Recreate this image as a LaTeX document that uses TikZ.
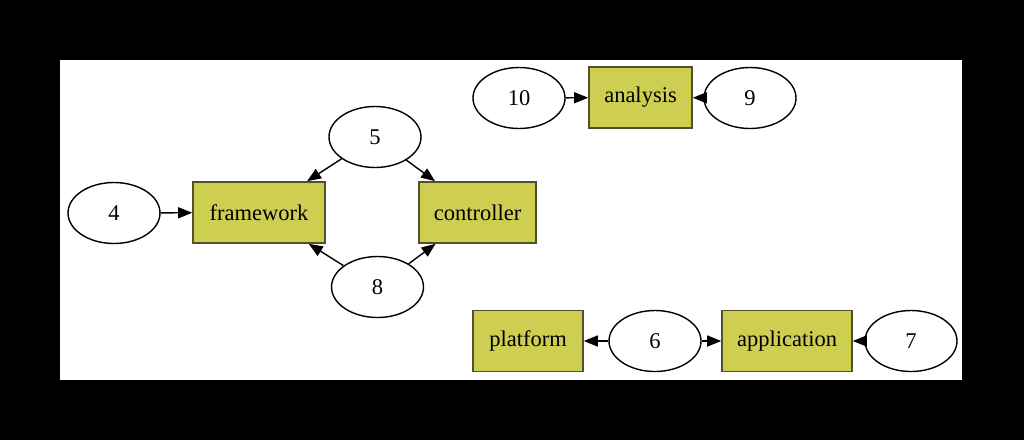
\documentclass[tikz,border=0pt]{standalone}
\usepackage{fontspec}
\setmainfont{Liberation Serif}
\usetikzlibrary{shapes.geometric,arrows.meta}
\definecolor{boxfill}{RGB}{206,206,82}
\definecolor{boxline}{RGB}{80,80,45}
\tikzset{
  ell/.style={draw=black, fill=white, ellipse, line width=1.4pt, minimum width=92pt, minimum height=61pt, inner sep=0pt, font=\fontsize{22.5}{26}\selectfont},
  bx/.style={draw=boxline, fill=boxfill, rectangle, line width=1.6pt, minimum height=61pt, inner sep=0pt, font=\fontsize{22.5}{26}\selectfont},
  edge/.style={draw=black, line width=1.4pt, -{Triangle[length=14pt,width=11pt]}}
}
\begin{document}
\begin{tikzpicture}[x=1pt,y=-1pt]
\fill[black] (0,0) rectangle (1024,440);
\useasboundingbox (0,0) rectangle (1024,440);
\fill[white] (60,60) rectangle (962,380);
% nodes
\node[ell] (n4) at (114,213) {4};
\node[bx, minimum width=132pt] (fw) at (259,212.5) {framework};
\node[ell] (n5) at (375,137) {5};
\node[bx, minimum width=117pt] (ct) at (477.5,212.5) {controller};
\node[ell] (n8) at (377.5,287) {8};
\node[ell] (n10) at (519,98) {10};
\node[bx, minimum width=103pt] (an) at (640.5,97.5) {analysis};
\node[ell] (n9) at (750,98) {9};
\node[bx, minimum width=110pt] (pf) at (528,341) {platform};
\node[ell] (n6) at (655,341) {6};
\node[bx, minimum width=130pt] (ap) at (787,341) {application};
\node[ell] (n7) at (911,341) {7};
% edges
\draw[edge] (n4) -- (fw);
\draw[edge] (n5) -- (fw);
\draw[edge] (n5) -- (ct);
\draw[edge] (n8) -- (fw);
\draw[edge] (n8) -- (ct);
\draw[edge] (n10) -- (an);
\draw[edge] (n9) -- (an);
\draw[edge] (n6) -- (pf);
\draw[edge] (n6) -- (ap);
\draw[edge] (n7) -- (ap);
\end{tikzpicture}
\end{document}
